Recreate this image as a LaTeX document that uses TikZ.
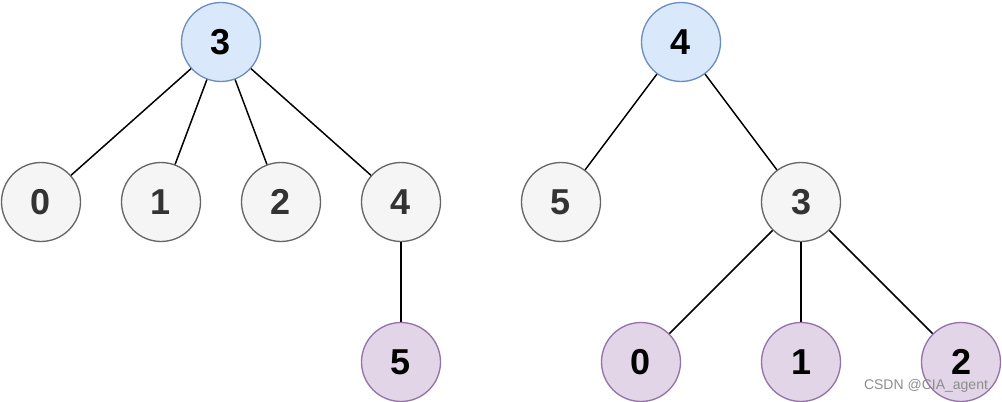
\documentclass[tikz,border=0pt]{standalone}
\usepackage{fontspec}
\setmainfont{Liberation Sans}
\usetikzlibrary{positioning}

\definecolor{rootfill}{HTML}{DAE8FC}
\definecolor{rootline}{HTML}{6C8EBF}
\definecolor{midfill}{HTML}{F5F5F5}
\definecolor{midline}{HTML}{666666}
\definecolor{midtext}{HTML}{333333}
\definecolor{leaffill}{HTML}{E1D5E7}
\definecolor{leafline}{HTML}{9673A6}

\tikzset{
    vert/.style={circle, minimum size=59.25pt, inner sep=0pt, line width=1pt,
        font=\fontsize{27}{27}\selectfont\bfseries},
    rootvert/.style={vert, fill=rootfill, draw=rootline, text=black},
    midvert/.style={vert, fill=midfill, draw=midline, text=midtext},
    leafvert/.style={vert, fill=leaffill, draw=leafline, text=black},
    link/.style={line width=1.1pt, black},
    wmark/.style={font=\fontsize{10.5}{12}\selectfont, text=black!45},
}

\begin{document}
\begin{tikzpicture}[x=0.75pt, y=-0.75pt, on grid]
    \useasboundingbox (0,0) rectangle (1002,402);

    % left tree
    \node[rootvert] (lthree) at (221,42) {3};
    \node[midvert, below left=120pt and 135pt of lthree] (lzero) {0};
    \node[midvert, below left=120pt and 45pt of lthree] (lone) {1};
    \node[midvert, below right=120pt and 45pt of lthree] (ltwo) {2};
    \node[midvert, below right=120pt and 135pt of lthree] (lfour) {4};
    \node[leafvert, below=120pt of lfour] (lfive) {5};

    \draw[link] (lthree) -- (lzero);
    \draw[link] (lthree) -- (lone);
    \draw[link] (lthree) -- (ltwo);
    \draw[link] (lthree) -- (lfour);
    \draw[link] (lfour) -- (lfive);

    % right tree
    \node[rootvert] (rfour) at (681,42) {4};
    \node[midvert, below left=120pt and 90pt of rfour] (rfive) {5};
    \node[midvert, below right=120pt and 90pt of rfour] (rthree) {3};
    \node[leafvert, below=120pt of rthree] (rone) {1};
    \node[leafvert, left=120pt of rone] (rzero) {0};
    \node[leafvert, right=120pt of rone] (rtwo) {2};

    \draw[link] (rfour) -- (rfive);
    \draw[link] (rfour) -- (rthree);
    \draw[link] (rthree) -- (rzero);
    \draw[link] (rthree) -- (rone);
    \draw[link] (rthree) -- (rtwo);

    \node[wmark] (mark) at (926,386) {CSDN @CIA\_agent};
\end{tikzpicture}
\end{document}
